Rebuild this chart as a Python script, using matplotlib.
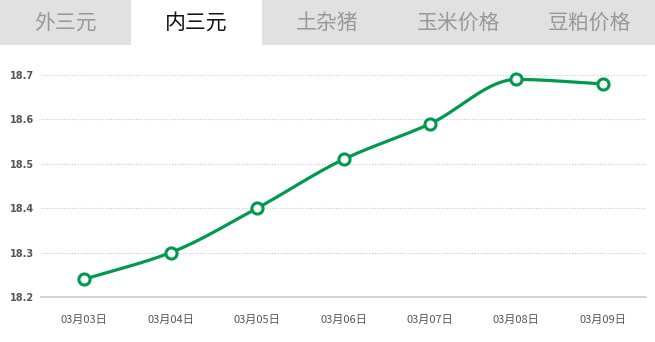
import numpy as np
import matplotlib
matplotlib.use("Agg")
import matplotlib.pyplot as plt
from matplotlib.patches import Rectangle

plt.rcParams['font.family'] = ['Noto Sans CJK SC', 'DejaVu Sans']

tabs = ["外三元", "内三元", "土杂猪", "玉米价格", "豆粕价格"]
active_tab = 1
dates = ["03月03日", "03月04日", "03月05日", "03月06日", "03月07日", "03月08日", "03月09日"]
prices = [18.24, 18.30, 18.40, 18.51, 18.59, 18.69, 18.68]
y_ticks = [18.2, 18.3, 18.4, 18.5, 18.6, 18.7]

GREEN = "#009a4e"


def smooth_curve(x, y, n=30):
    """Monotone cubic (Fritsch-Carlson) Hermite curve through the points."""
    x = np.asarray(x, float)
    y = np.asarray(y, float)
    h = np.diff(x)
    d = np.diff(y) / h
    m = np.zeros_like(y)
    m[0], m[-1] = d[0], d[-1]
    for i in range(1, len(y) - 1):
        if d[i - 1] * d[i] <= 0:
            m[i] = 0.0
        else:
            w1 = 2 * h[i] + h[i - 1]
            w2 = h[i] + 2 * h[i - 1]
            m[i] = (w1 + w2) / (w1 / d[i - 1] + w2 / d[i])
    xs, ys = [], []
    for i in range(len(x) - 1):
        t = np.linspace(0, 1, n, endpoint=(i == len(x) - 2))
        h00 = 2 * t**3 - 3 * t**2 + 1
        h10 = t**3 - 2 * t**2 + t
        h01 = -2 * t**3 + 3 * t**2
        h11 = t**3 - t**2
        xs.append(x[i] + t * h[i])
        ys.append(h00 * y[i] + h10 * h[i] * m[i] + h01 * y[i + 1] + h11 * h[i] * m[i + 1])
    return np.concatenate(xs), np.concatenate(ys)


W, H = 655, 342
fig = plt.figure(figsize=(W / 100, H / 100), dpi=100)
fig.patch.set_facecolor("white")

# Tab bar across the top
tab_ax = fig.add_axes([0, 1 - 45 / H, 1, 45 / H])
tab_ax.set_xlim(0, W)
tab_ax.set_ylim(0, 45)
tab_ax.axis("off")
tab_w = W / len(tabs)
for i, name in enumerate(tabs):
    face = "white" if i == active_tab else "#e1e1e1"
    tab_ax.add_patch(Rectangle((i * tab_w, 0), tab_w, 45, facecolor=face, edgecolor="none"))
    tab_ax.text(i * tab_w + tab_w / 2, 22.5, name, ha="center", va="center",
                fontsize=15, color="#111111" if i == active_tab else "#999999")

# Price chart
ax = fig.add_axes([41 / W, 45 / H, 605 / W, 222 / H])
x = np.arange(len(dates))
ax.set_xlim(-0.5, len(dates) - 0.5)
ax.set_ylim(18.2, 18.7)

sx, sy = smooth_curve(x, prices)
ax.plot(sx, sy, color=GREEN, lw=2.3, solid_capstyle="round", clip_on=False, zorder=3)
ax.plot(x, prices, linestyle="none", marker="o", markersize=8, markerfacecolor="white",
        markeredgecolor=GREEN, markeredgewidth=2.2, clip_on=False, zorder=4)

ax.set_yticks(y_ticks)
ax.set_yticklabels([f"{v:.1f}" for v in y_ticks], fontsize=7, fontweight="bold",
                   color="#555555", family="DejaVu Sans")
ax.set_xticks(x)
ax.set_xticklabels(dates, fontsize=8, color="#555555")
ax.tick_params(axis="both", length=0)
ax.tick_params(axis="y", pad=5)
ax.tick_params(axis="x", pad=13)

ax.grid(axis="y", linestyle=(0, (1, 1.5)), color="#c8c8c8", linewidth=0.8)
ax.grid(axis="x", visible=False)
for side in ("top", "right", "left"):
    ax.spines[side].set_visible(False)
ax.spines["bottom"].set_color("#cccccc")
ax.spines["bottom"].set_linewidth(1.2)
ax.set_axisbelow(True)

fig.savefig("out.png", dpi=100, facecolor="white")
